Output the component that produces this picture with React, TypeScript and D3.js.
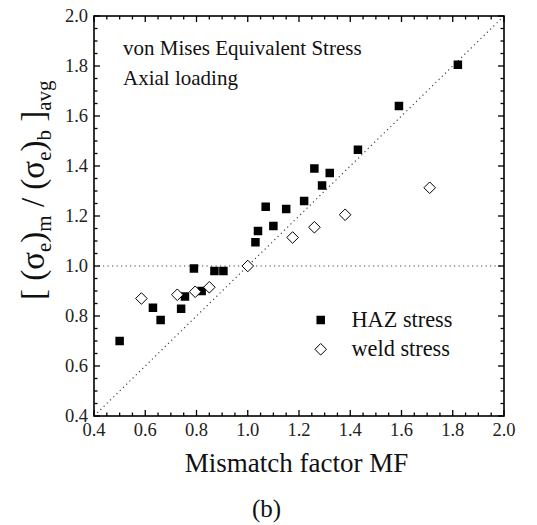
import React from "react";
import * as d3 from "d3";

const hazX = [1.82, 1.59, 1.43, 1.26, 1.32, 1.29, 1.22, 1.15, 1.07, 1.10, 1.04, 1.03, 0.79, 0.87, 0.905, 0.82, 0.755, 0.74, 0.63, 0.66, 0.50];
const hazY = [1.805, 1.64, 1.465, 1.39, 1.372, 1.322, 1.26, 1.228, 1.237, 1.16, 1.14, 1.095, 0.99, 0.98, 0.98, 0.90, 0.878, 0.829, 0.833, 0.784, 0.70];
const weldX = [1.71, 1.38, 1.26, 1.175, 1.0, 0.585, 0.725, 0.795, 0.85];
const weldY = [1.313, 1.205, 1.155, 1.114, 1.0, 0.87, 0.885, 0.897, 0.915];
const majorTicks = [0.4, 0.6, 0.8, 1.0, 1.2, 1.4, 1.6, 1.8, 2.0];
const legendLabels = ["HAZ stress", "weld stress"];
const noteLines = ["von Mises Equivalent Stress", "Axial loading"];

const W = 537, H = 525;
const L = 94, R = 504, T = 16, B = 416;

function Txt(props: any) {
  const { children, ...rest } = props;
  return (
    <text fontFamily="Liberation Serif" style={{ fontFamily: "Liberation Serif" }} {...rest}>
      {children}
    </text>
  );
}

export default function App() {
  const x = d3.scaleLinear().domain([0.4, 2.0]).range([L, R]);
  const y = d3.scaleLinear().domain([0.4, 2.0]).range([B, T]);
  const minor = d3.range(0.4, 2.0001, 0.05).map((v) => +v.toFixed(2));
  const isMajor = (v: number) => majorTicks.some((m) => Math.abs(m - v) < 1e-6);
  const sq = 8.5;
  const dm = 5.8;
  const diamond = (cx: number, cy: number) =>
    `M${cx},${cy - dm}L${cx + dm},${cy}L${cx},${cy + dm}L${cx - dm},${cy}Z`;
  const dotStyle = { stroke: "#444", strokeWidth: 1.2, strokeDasharray: "1.2 3.3", fill: "none" };

  return (
    <svg width={W} height={H} style={{ display: "block", marginLeft: -8, marginTop: -8 }}>
      <style>{`text { font-family: "Liberation Serif", serif; }`}</style>
      <rect x={0} y={0} width={W} height={H} fill="#fff" />
      <line x1={x(0.4)} y1={y(0.4)} x2={x(2.0)} y2={y(2.0)} style={dotStyle} />
      <line x1={x(0.4)} y1={y(1.0)} x2={x(2.0)} y2={y(1.0)} style={dotStyle} />
      {minor.map((v, i) => {
        const len = isMajor(v) ? 6 : 3.5;
        return (
          <g key={i} stroke="#000" strokeWidth={1.3}>
            <line x1={x(v)} x2={x(v)} y1={B} y2={B - len} />
            <line x1={x(v)} x2={x(v)} y1={T} y2={T + len} />
            <line y1={y(v)} y2={y(v)} x1={L} x2={L + len} />
            <line y1={y(v)} y2={y(v)} x1={R} x2={R - len} />
          </g>
        );
      })}
      <rect x={L} y={T} width={R - L} height={B - T} fill="none" stroke="#000" strokeWidth={1.6} />
      {majorTicks.map((v, i) => (
        <Txt key={"xt" + i} x={x(v)} y={436} fontSize={18.5} textAnchor="middle" fill="#222">
          {v.toFixed(1)}
        </Txt>
      ))}
      {majorTicks.map((v, i) => (
        <Txt key={"yt" + i} x={88} y={y(v) + 6} fontSize={18.5} textAnchor="end" fill="#222">
          {v.toFixed(1)}
        </Txt>
      ))}
      {hazX.map((v, i) => (
        <rect key={"h" + i} x={x(v) - sq / 2} y={y(hazY[i]) - sq / 2} width={sq} height={sq} fill="#000" />
      ))}
      {weldX.map((v, i) => (
        <path key={"w" + i} d={diamond(x(v), y(weldY[i]))} fill="#fff" stroke="#000" strokeWidth={1} />
      ))}
      <Txt x={123} y={55} fontSize={21} fill="#111">{noteLines[0]}</Txt>
      <Txt x={123} y={85} fontSize={21} fill="#111">{noteLines[1]}</Txt>
      <rect x={320.7 - sq / 2} y={320 - sq / 2} width={sq} height={sq} fill="#000" />
      <Txt x={351.5} y={327} fontSize={22.3} fill="#111">{legendLabels[0]}</Txt>
      <path d={diamond(320.7, 349.3)} fill="#fff" stroke="#000" strokeWidth={1} />
      <Txt x={351.5} y={356} fontSize={22.3} fill="#111">{legendLabels[1]}</Txt>
      <Txt x={296.5} y={472} fontSize={27} textAnchor="middle" fill="#111">Mismatch factor MF</Txt>
      <Txt x={266.5} y={517} fontSize={25} textAnchor="middle" fill="#111">(b)</Txt>
      <Txt transform="translate(44,300) rotate(-90)" fontSize={33} fill="#111">
        <tspan>[ (σ</tspan>
        <tspan fontSize={21} dy={7}>e</tspan>
        <tspan dy={-7}>)</tspan>
        <tspan fontSize={21} dy={7}>m</tspan>
        <tspan dy={-7}> / (σ</tspan>
        <tspan fontSize={21} dy={7}>e</tspan>
        <tspan dy={-7}>)</tspan>
        <tspan fontSize={21} dy={7}>b</tspan>
        <tspan dy={-7}> ]</tspan>
        <tspan fontSize={21} dy={7}>avg</tspan>
      </Txt>
    </svg>
  );
}
